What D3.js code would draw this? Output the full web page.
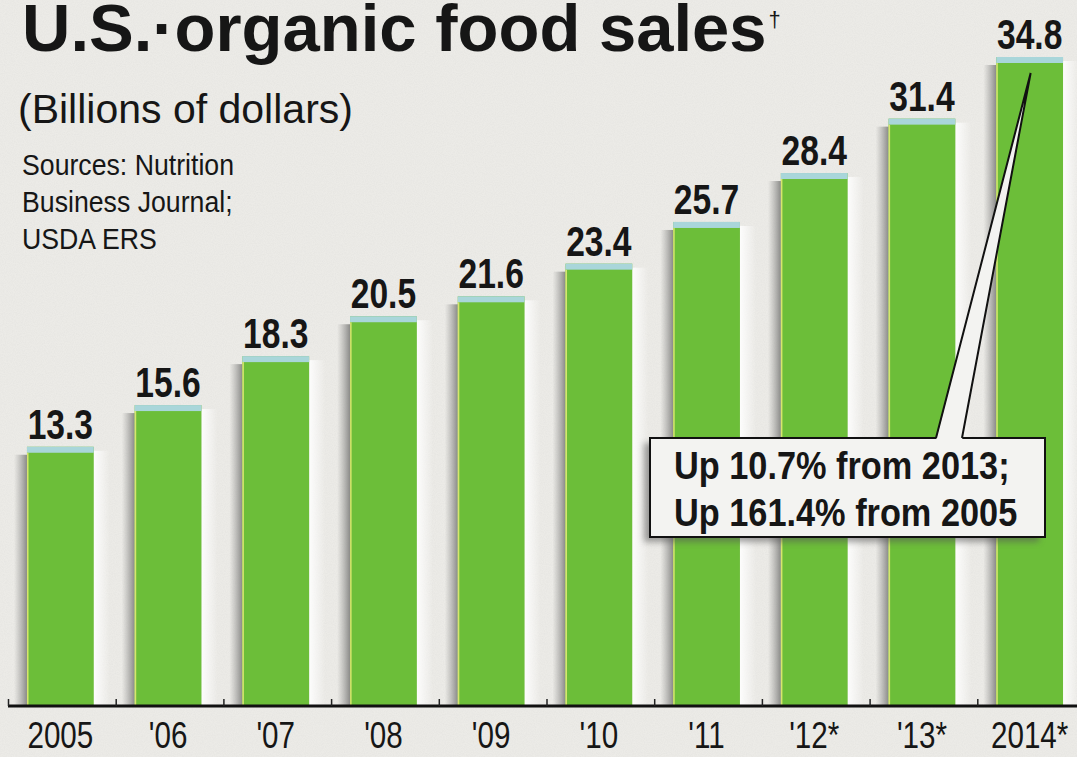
<!DOCTYPE html>
<html>
<head>
<meta charset="utf-8">
<script src="https://cdn.jsdelivr.net/npm/d3@7"></script>
<style>
  html, body { margin: 0; padding: 0; background: #ecebe7; }
  svg { display: block; }
  text { font-family: "Liberation Sans", Arial, sans-serif; fill: #161616; }
</style>
</head>
<body>
<svg id="chart" width="1077" height="757"></svg>
<script>
// ---- data ----
const years = ["2005", "'06", "'07", "'08", "'09", "'10", "'11", "'12*", "'13*", "2014*"];
const sales = [13.3, 15.6, 18.3, 20.5, 21.6, 23.4, 25.7, 28.4, 31.4, 34.8];
const titleText = "U.S.\u00B7organic food sales";
const titleMark = "\u2020";
const subtitleText = "(Billions of dollars)";
const sourceLines = ["Sources: Nutrition", "Business Journal;", "USDA ERS"];
const noteLines = ["Up 10.7% from 2013;", "Up 161.4% from 2005"];

// ---- layout ----
const W = 1077, H = 757;
const baseY = 706;
const svg = d3.select("#chart");

const defs = svg.append("defs");
const shadowGrad = defs.append("linearGradient").attr("id", "shadowGrad")
  .attr("x1", "0").attr("x2", "1").attr("y1", "0").attr("y2", "0");
shadowGrad.append("stop").attr("offset", "0").attr("stop-color", "#9a9a98").attr("stop-opacity", 0);
shadowGrad.append("stop").attr("offset", "1").attr("stop-color", "#7f7f7d").attr("stop-opacity", 0.9);
const glowGrad = defs.append("linearGradient").attr("id", "glowGrad")
  .attr("x1", "0").attr("x2", "1").attr("y1", "0").attr("y2", "0");
glowGrad.append("stop").attr("offset", "0").attr("stop-color", "#ffffff").attr("stop-opacity", 0.9);
glowGrad.append("stop").attr("offset", "1").attr("stop-color", "#ffffff").attr("stop-opacity", 0);
const blur = defs.append("filter").attr("id", "blur").attr("x", "-20%").attr("y", "-20%")
  .attr("width", "140%").attr("height", "140%");
blur.append("feGaussianBlur").attr("stdDeviation", 3);
// paper grain
const grain = defs.append("filter").attr("id", "grain").attr("x", 0).attr("y", 0)
  .attr("width", "100%").attr("height", "100%");
grain.append("feTurbulence").attr("type", "fractalNoise").attr("baseFrequency", 0.9)
  .attr("numOctaves", 2).attr("seed", 3).attr("result", "n");
grain.append("feColorMatrix").attr("type", "matrix")
  .attr("values", "0 0 0 0 0.5  0 0 0 0 0.5  0 0 0 0 0.5  0 0 0 -1.6 1.1");

// background
svg.append("rect").attr("width", W).attr("height", H).attr("fill", "#ecebe7");
svg.append("rect").attr("width", W).attr("height", H).attr("filter", "url(#grain)")
  .attr("opacity", 0.12);

const data = years.map((y, i) => ({ year: y, value: sales[i] }));

const x = d3.scaleBand().domain(years).range([6.5, 1083.5])
  .paddingInner(0.38).paddingOuter(0.19);
const y = d3.scaleLinear().domain([-1, 34.8]).range([baseY, 57]);

// shadows left of bars
svg.append("g").selectAll("rect").data(data).join("rect")
  .attr("x", d => x(d.year) - 13)
  .attr("y", d => y(d.value) + 8)
  .attr("width", 13)
  .attr("height", d => baseY - y(d.value) - 8)
  .attr("fill", "url(#shadowGrad)");

// light glow right of bars
svg.append("g").selectAll("rect").data(data).join("rect")
  .attr("x", d => x(d.year) + x.bandwidth())
  .attr("y", d => y(d.value) + 4)
  .attr("width", 16)
  .attr("height", d => baseY - y(d.value) - 4)
  .attr("fill", "url(#glowGrad)");

// bars
const bars = svg.append("g");
bars.selectAll("rect.bar").data(data).join("rect")
  .attr("class", "bar")
  .attr("x", d => x(d.year))
  .attr("y", d => y(d.value))
  .attr("width", x.bandwidth())
  .attr("height", d => baseY - y(d.value))
  .attr("fill", "#6cbe39");
// light blue cap
bars.selectAll("rect.cap").data(data).join("rect")
  .attr("class", "cap")
  .attr("x", d => x(d.year))
  .attr("y", d => y(d.value))
  .attr("width", x.bandwidth())
  .attr("height", 6)
  .attr("fill", "#a9d6da");
// pale left edge
bars.selectAll("line.edge").data(data).join("line")
  .attr("class", "edge")
  .attr("x1", d => x(d.year) + 0.8).attr("x2", d => x(d.year) + 0.8)
  .attr("y1", d => y(d.value) + 6).attr("y2", baseY)
  .attr("stroke", "#d7e56e").attr("stroke-width", 1.5);

// value labels
svg.append("g").selectAll("text").data(data).join("text")
  .attr("transform", d => `translate(${x(d.year) + x.bandwidth() / 2},${y(d.value) - 8}) scale(0.8,1)`)
  .attr("text-anchor", "middle")
  .attr("font-weight", "bold")
  .attr("font-size", 42)
  .text(d => d3.format(".1f")(d.value));

// baseline axis line
svg.append("line").attr("x1", 8).attr("x2", W).attr("y1", baseY).attr("y2", baseY)
  .attr("stroke", "#111").attr("stroke-width", 3);
// boundary ticks (between bars)
const step = x.step();
svg.append("g").selectAll("line").data(years).join("line")
  .attr("x1", d => x(d) - step * x.paddingInner() / 2 + 2)
  .attr("x2", d => x(d) - step * x.paddingInner() / 2 + 2)
  .attr("y1", baseY).attr("y2", baseY - 7)
  .attr("stroke", "#222").attr("stroke-width", 1.5);

// category labels via d3 axis
const axis = svg.append("g").attr("transform", `translate(0,${baseY})`)
  .call(d3.axisBottom(x).tickSize(0).tickPadding(16));
axis.select(".domain").remove();
axis.selectAll("text")
  .attr("font-family", "Liberation Sans, Arial, sans-serif")
  .attr("font-size", 37)
  .attr("fill", "#161616")
  .attr("transform", "scale(0.8,1)");

// title
const title = svg.append("text").attr("x", 22).attr("y", 51)
  .attr("font-weight", "bold").attr("font-size", 67);
title.append("tspan").text(titleText);
title.append("tspan").attr("font-size", 22).attr("font-weight", "normal")
  .attr("dx", 2).attr("dy", -24).text(titleMark);

// subtitle
svg.append("text").attr("x", 18).attr("y", 123)
  .attr("font-size", 41).text(subtitleText);

// sources
svg.append("g").selectAll("text").data(sourceLines).join("text")
  .attr("transform", (d, i) => `translate(22,${175 + i * 37}) scale(0.92,1)`)
  .attr("font-size", 29)
  .text(d => d);

// annotation box
const box = { x: 650, y: 438, w: 395, h: 99 };
svg.append("rect").attr("x", box.x - 6).attr("y", box.y + 5)
  .attr("width", box.w).attr("height", box.h)
  .attr("fill", "#555").attr("opacity", 0.55).attr("filter", "url(#blur)");
svg.append("rect").attr("x", box.x).attr("y", box.y)
  .attr("width", box.w).attr("height", box.h)
  .attr("fill", "#f3f3f1").attr("stroke", "#111").attr("stroke-width", 2);

// pointer to 2014 bar
const last = data[data.length - 1];
const tip = [x(last.year) + x.bandwidth() / 2 + 1, y(last.value) + 16];
const baseL = [box.x + 286, box.y];
const baseR = [box.x + 312, box.y];
svg.append("path")
  .attr("d", `M${baseL[0]},${baseL[1] + 2}L${tip[0]},${tip[1]}L${baseR[0]},${baseR[1] + 2}Z`)
  .attr("fill", "#f3f3f1");
svg.append("path")
  .attr("d", `M${baseL[0]},${baseL[1]}L${tip[0]},${tip[1]}L${baseR[0]},${baseR[1]}`)
  .attr("fill", "none").attr("stroke", "#111").attr("stroke-width", 2)
  .attr("stroke-linejoin", "miter");

svg.append("g").selectAll("text").data(noteLines).join("text")
  .attr("transform", (d, i) => `translate(${box.x + 24},${box.y + 41 + i * 47}) scale(0.88,1)`)
  .attr("font-weight", "bold").attr("font-size", 39)
  .text(d => d);
</script>
</body>
</html>
